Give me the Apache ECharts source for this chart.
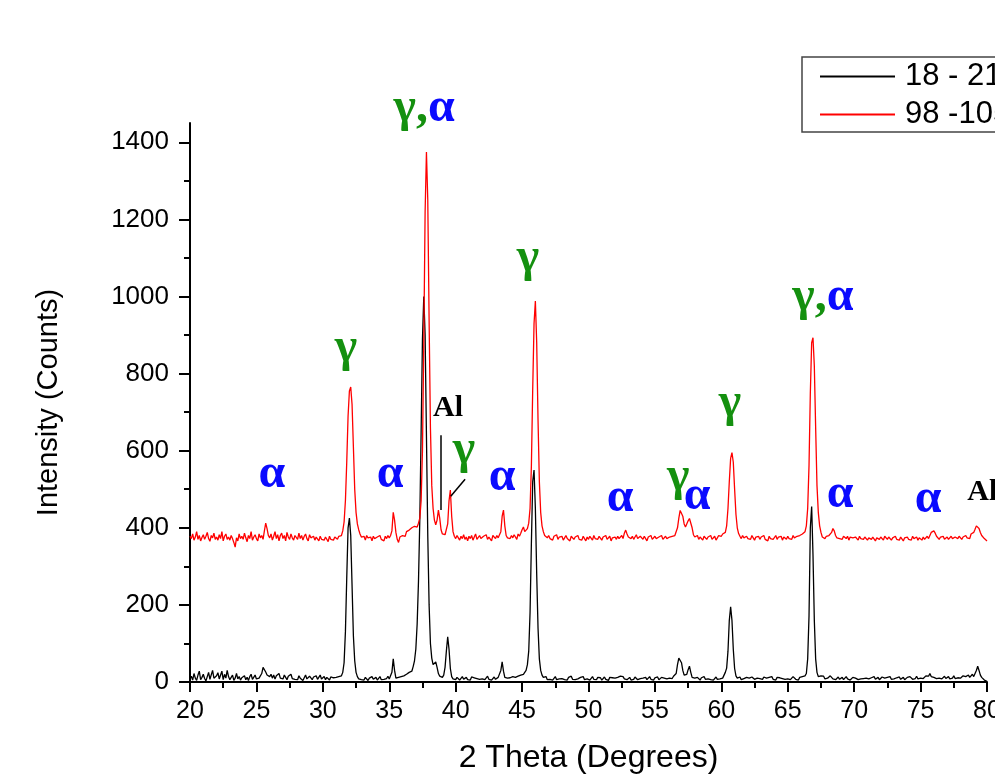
<!DOCTYPE html>
<html>
<head>
<meta charset="utf-8">
<script src="https://cdn.jsdelivr.net/npm/echarts@6/dist/echarts.min.js"></script>
<style>
html,body{margin:0;padding:0;background:#fff;}
#chart{width:995px;height:775px;}
</style>
</head>
<body>
<div id="chart"></div>
<script>
// 2θ grid of the scans (degrees)
var xStart = 20.0;
var xStep = 0.1;

// Sample "18 - 21" (black), one row per degree (x.0 ... x.9)
var blackY = [
  8, 15, 5, 22, 10, 4, 18, 28, 6, 12,
  20, 9, 3, 14, 25, 7, 12, 30, 10, 5,
  16, 24, 8, 12, 28, 6, 20, 10, 30, 14,
  6, 12, 18, 4, 10, 22, 8, 14, 5, 11,
  9, 16, 6, 12, 4, 14, 20, 7, 10, 18,
  8, 12, 10, 15, 22, 38, 34, 26, 18, 22,
  14, 20, 10, 18, 8, 16, 12, 22, 10, 14,
  8, 18, 12, 6, 15, 10, 20, 9, 13, 7,
  12, 6, 16, 10, 14, 4, 11, 18, 8, 12,
  15, 10, 6, 13, 9, 16, 7, 12, 18, 8,
  10, 14, 6, 12, 9, 5, 13, 8, 11, 7,
  12, 8, 14, 10, 16, 25, 50, 130, 270, 400,
  425, 380, 250, 120, 55, 25, 14, 8, 12, 6,
  10, 5, 12, 8, 4, 10, 6, 14, 7, 9,
  12, 5, 8, 14, 6, 10, 7, 12, 9, 15,
  8, 12, 25, 60, 30, 10, 6, 12, 8, 14,
  10, 16, 12, 20, 18, 25, 30, 28, 40, 55,
  85, 150, 260, 420, 650, 890, 1000, 900, 640, 380,
  200, 100, 62, 45, 40, 52, 38, 22, 15, 10,
  12, 18, 38, 80, 117, 85, 35, 14, 8, 10,
  6, 12, 8, 5, 10, 14, 7, 9, 12, 6,
  10, 5, 13, 8, 11, 6, 9, 14, 7, 10,
  8, 12, 6, 10, 15, 7, 11, 5, 9, 13,
  7, 10, 12, 15, 30, 52, 28, 12, 8, 10,
  6, 11, 8, 14, 10, 12, 9, 15, 11, 18,
  14, 20, 22, 30, 45, 80, 180, 360, 520, 550,
  450, 280, 140, 60, 30, 18, 12, 8, 14, 6,
  10, 7, 12, 5, 9, 14, 6, 11, 8, 4,
  9, 13, 6, 10, 5, 12, 8, 15, 7, 10,
  6, 11, 8, 4, 12, 9, 14, 6, 10, 8,
  12, 5, 9, 14, 7, 10, 6, 12, 8, 11,
  5, 9, 13, 7, 10, 4, 12, 8, 11, 6,
  10, 7, 12, 9, 15, 18, 14, 8, 11, 6,
  9, 12, 5, 10, 7, 13, 8, 6, 11, 9,
  5, 10, 8, 12, 6, 9, 14, 7, 10, 5,
  11, 8, 13, 6, 9, 12, 7, 10, 14, 8,
  6, 10, 12, 9, 15, 14, 22, 45, 62, 64,
  50, 30, 18, 15, 20, 32, 41, 25, 12, 8,
  10, 6, 12, 8, 5, 11, 9, 14, 7, 10,
  8, 12, 6, 10, 5, 9, 13, 7, 11, 8,
  12, 10, 15, 25, 36, 80, 160, 195, 160, 85,
  35, 16, 10, 8, 13, 6, 11, 9, 5, 12,
  8, 10, 6, 13, 9, 7, 12, 10, 5, 9,
  11, 7, 13, 8, 10, 6, 12, 9, 14, 7,
  10, 5, 12, 8, 11, 6, 9, 13, 7, 10,
  8, 12, 6, 10, 14, 9, 7, 11, 5, 12,
  9, 14, 10, 16, 22, 60, 170, 400, 455, 330,
  160, 60, 25, 14, 10, 16, 12, 15, 8, 13,
  10, 14, 16, 12, 8, 11, 6, 10, 13, 7,
  9, 12, 6, 10, 14, 8, 11, 5, 9, 12,
  7, 10, 13, 6, 11, 8, 12, 9, 5, 10,
  12, 8, 6, 11, 9, 14, 7, 10, 12, 6,
  9, 13, 8, 10, 6, 12, 9, 14, 7, 11,
  8, 5, 11, 9, 13, 7, 10, 12, 6, 9,
  12, 8, 14, 10, 7, 11, 9, 15, 8, 12,
  10, 14, 9, 12, 16, 18, 15, 22, 14, 10,
  12, 16, 9, 13, 10, 14, 8, 12, 15, 9,
  11, 14, 8, 12, 10, 16, 9, 13, 11, 15,
  10, 13, 16, 11, 14, 9, 18, 12, 15, 20,
  14, 22, 30, 41, 30, 18, 12, 8, 5, 3,
  2
];

// Sample "98 -10.." (red)
var redY = [
  378, 372, 384, 368, 376, 390, 370, 380, 366, 375,
  382, 370, 378, 388, 372, 365, 380, 374, 386, 370,
  376, 368, 382, 372, 390, 366, 378, 384, 370, 376,
  368, 380, 372, 362, 350, 374, 366, 384, 372, 378,
  370, 386, 374, 364, 380, 372, 390, 368, 376, 382,
  372, 366, 384, 374, 380, 370, 392, 412, 398, 380,
  374, 384, 368, 378, 390, 372, 382, 366, 380, 386,
  372, 380, 366, 388, 376, 370, 384, 374, 368, 380,
  376, 370, 386, 372, 380, 368, 378, 384, 372, 366,
  382, 374, 370, 378, 368, 376, 372, 366, 378, 370,
  374, 368, 376, 372, 364, 378, 370, 374, 368, 376,
  372, 370, 378, 374, 380, 392, 415, 470, 570, 690,
  755, 765, 720, 610, 500, 440, 410, 395, 384, 376,
  372, 378, 368, 380, 374, 370, 376, 366, 378, 372,
  368, 376, 372, 380, 370, 374, 366, 378, 372, 380,
  374, 380, 392, 440, 420, 388, 370, 362, 376, 372,
  380, 384, 378, 390, 386, 394, 392, 400, 398, 404,
  408, 402, 412, 425, 470, 600, 880, 1220, 1375, 1250,
  940, 660, 510, 450, 420, 408, 420, 446, 425, 395,
  384, 380, 382, 385, 410, 470, 498, 430, 390, 378,
  372, 380, 374, 368, 378, 372, 382, 370, 376, 366,
  378, 372, 380, 368, 376, 384, 370, 374, 380, 372,
  368, 378, 374, 382, 370, 376, 372, 366, 380, 376,
  372, 380, 374, 378, 390, 430, 446, 405, 380, 374,
  378, 372, 380, 374, 382, 376, 370, 384, 378, 386,
  395, 402, 390, 388, 398, 412, 450, 560, 760, 930,
  988, 880, 680, 520, 440, 405, 390, 380, 382, 374,
  380, 372, 376, 368, 378, 374, 382, 370, 376, 372,
  378, 368, 374, 380, 372, 376, 366, 378, 374, 370,
  376, 372, 380, 370, 374, 368, 378, 372, 366, 376,
  370, 378, 374, 368, 380, 372, 376, 370, 378, 374,
  368, 376, 372, 380, 370, 374, 378, 366, 374, 372,
  376, 370, 378, 372, 374, 380, 372, 386, 394, 384,
  376, 380, 372, 378, 370, 376, 382, 372, 368, 378,
  374, 370, 378, 372, 366, 376, 372, 380, 370, 374,
  378, 372, 368, 376, 374, 380, 370, 374, 378, 372,
  370, 376, 372, 378, 374, 380, 385, 400, 425, 445,
  448, 430, 410, 402, 407, 418, 424, 427, 400, 382,
  376, 372, 380, 370, 376, 372, 368, 378, 374, 370,
  376, 372, 380, 370, 374, 378, 368, 374, 380, 376,
  378, 384, 380, 388, 405, 450, 520, 580, 595, 570,
  500, 435, 400, 385, 378, 372, 380, 374, 370, 378,
  372, 376, 370, 380, 374, 368, 376, 372, 378, 370,
  376, 372, 380, 370, 374, 366, 378, 372, 376, 370,
  374, 380, 370, 376, 372, 378, 368, 376, 374, 370,
  378, 372, 376, 370, 380, 374, 372, 378, 374, 380,
  376, 384, 380, 390, 405, 450, 560, 750, 880, 893,
  820, 660, 510, 440, 405, 388, 376, 380, 372, 378,
  374, 380, 376, 388, 398, 392, 380, 374, 378, 372,
  376, 370, 378, 374, 372, 378, 368, 376, 372, 374,
  370, 376, 372, 368, 378, 372, 374, 370, 376, 372,
  368, 374, 378, 370, 376, 372, 366, 374, 378, 370,
  376, 372, 368, 378, 374, 370, 376, 372, 368, 374,
  372, 378, 370, 374, 368, 376, 372, 366, 374, 370,
  376, 370, 374, 368, 378, 372, 370, 376, 368, 374,
  372, 368, 376, 370, 374, 378, 372, 380, 388, 385,
  392, 386, 378, 374, 370, 376, 372, 378, 370, 374,
  376, 370, 374, 378, 372, 368, 376, 374, 372, 378,
  374, 370, 376, 372, 380, 374, 378, 372, 384, 382,
  388, 396, 405, 409, 398, 388, 380, 376, 372, 370,
  366
];

var seriesNames = ['18 - 21 \u00b5m', '98 -105 \u00b5m'];
var xTicks = [20, 25, 30, 35, 40, 45, 50, 55, 60, 65, 70, 75, 80];
var yTicks = [0, 200, 400, 600, 800, 1000, 1200, 1400];
var yMinorTicks = [100, 300, 500, 700, 900, 1100, 1300];

// Phase annotations: text, 2θ position, intensity position
var annText = ['γ,α', 'γ', 'α', 'α', 'Al', 'γ', 'α', 'γ', 'α', 'γ', 'α', 'γ', 'γ,α', 'α', 'α', 'Al'];
var annX    = [37.62, 31.75, 26.17, 35.06, 39.43, 40.63, 43.49, 45.45, 52.38, 56.75, 58.18, 60.66, 67.65, 68.95, 75.57, 79.65];
var annY    = [1488, 866, 537, 539, 710, 601, 529, 1099, 477, 529, 480, 721, 996, 485, 472, 493];

// Leader lines for Al and γ near 38-40°
var leaderLines = [
  [[38.88, 640], [38.88, 446]],
  [[40.71, 526], [39.63, 482]]
];

function toPairs(arr) {
  var out = [];
  for (var i = 0; i < arr.length; i++) {
    out.push([+(xStart + i * xStep).toFixed(1), arr[i]]);
  }
  return out;
}

var GREEN = '#14900f';
var BLUE = '#0a0aff';
var serif = '"Liberation Serif", "Times New Roman", serif';
var sans = '"Liberation Sans", Arial, sans-serif';

var chart = echarts.init(document.getElementById('chart'), null, {renderer: 'canvas'});

var option = {
  animation: false,
  backgroundColor: '#ffffff',
  grid: {left: 190, right: 8, top: 123, bottom: 93, containLabel: false, outerBoundsMode: 'none'},
  legend: {
    orient: 'vertical',
    left: 802,
    top: 57,
    padding: [4, 10, 2, 18],
    itemGap: 7,
    itemWidth: 75,
    itemHeight: 2,
    icon: 'rect',
    borderColor: '#444',
    borderWidth: 1.5,
    textStyle: {fontFamily: sans, fontSize: 31, color: '#000', lineHeight: 30, padding: [0, 0, 0, 5]},
    data: seriesNames
  },
  xAxis: {
    type: 'value',
    min: 20, max: 80, interval: 5,
    name: '2 Theta (Degrees)',
    nameLocation: 'middle',
    nameGap: 60,
    nameTextStyle: {fontFamily: sans, fontSize: 32, color: '#000'},
    axisLine: {show: true, onZero: false, lineStyle: {color: '#000', width: 2}},
    axisTick: {show: true, length: 10, lineStyle: {color: '#000', width: 2}, customValues: xTicks},
    minorTick: {show: true, splitNumber: 2, length: 6, lineStyle: {color: '#000', width: 2}},
    axisLabel: {fontFamily: sans, fontSize: 25, color: '#000', margin: 17, customValues: xTicks,
      formatter: function (v) { return String(v); }},
    splitLine: {show: false}
  },
  yAxis: [{
    type: 'value',
    min: 0, max: 1450,
    name: 'Intensity (Counts)',
    nameLocation: 'middle',
    nameGap: 127,
    nameTextStyle: {fontFamily: sans, fontSize: 29, color: '#000'},
    axisLine: {show: true, onZero: false, lineStyle: {color: '#000', width: 2}},
    axisTick: {show: true, length: 11, lineStyle: {color: '#000', width: 2}, customValues: yTicks},
    axisLabel: {fontFamily: sans, fontSize: 26, color: '#000', margin: 21, customValues: yTicks,
      formatter: function (v) { return String(v); }},
    splitLine: {show: false}
  }, {
    type: 'value',
    min: 0, max: 1450,
    position: 'left',
    axisLine: {show: false},
    axisTick: {show: true, length: 6, lineStyle: {color: '#000', width: 2}, customValues: yMinorTicks},
    axisLabel: {show: false},
    splitLine: {show: false}
  }],
  series: [{
    name: seriesNames[0],
    type: 'line',
    data: toPairs(blackY),
    symbol: 'none',
    showSymbol: false,
    color: '#000000',
    lineStyle: {color: '#000000', width: 1.3},
    z: 2
  }, {
    name: seriesNames[1],
    type: 'line',
    data: toPairs(redY),
    symbol: 'none',
    showSymbol: false,
    color: '#ff0000',
    lineStyle: {color: '#ff0000', width: 1.3},
    z: 3,
    markLine: {
      silent: true,
      symbol: ['none', 'none'],
      label: {show: false},
      lineStyle: {color: '#000', width: 1.5, type: 'solid'},
      data: leaderLines.map(function (l) {
        return [{coord: l[0]}, {coord: l[1]}];
      })
    }
  }]
};

chart.setOption(option);

function richFor(txt) {
  if (txt === 'γ,α') return '{g|γ,}{a|α}';
  if (txt === 'γ') return '{g|γ}';
  if (txt === 'α') return '{a|α}';
  return '{k|' + txt + '}';
}

var graphics = [];
for (var i = 0; i < annText.length; i++) {
  var p = chart.convertToPixel({xAxisIndex: 0, yAxisIndex: 0}, [annX[i], annY[i]]);
  graphics.push({
    type: 'text',
    x: p[0], y: p[1],
    z: 10,
    silent: true,
    style: {
      text: richFor(annText[i]),
      align: 'center',
      verticalAlign: 'middle',
      rich: {
        g: {fill: GREEN, fontFamily: serif, fontWeight: 'bold', fontSize: 48},
        a: {fill: BLUE, fontFamily: serif, fontWeight: 'bold', fontSize: 48},
        k: {fill: '#000', fontFamily: serif, fontWeight: 'bold', fontSize: 30}
      }
    }
  });
}
chart.setOption({graphic: graphics});
</script>
</body>
</html>
